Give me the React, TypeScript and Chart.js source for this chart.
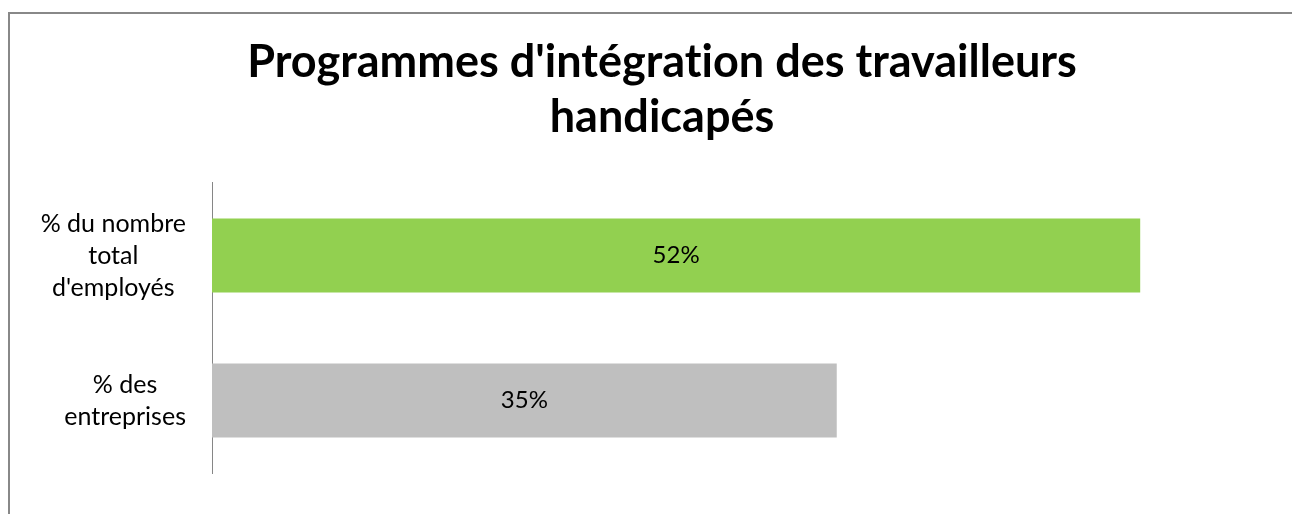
import React, { useEffect, useRef } from "react";
import { Chart, registerables } from "chart.js";

Chart.register(...registerables);

const titleLines = ["Programmes d'intégration des travailleurs", "handicapés"];
const categories: string[][] = [
  ["% du nombre", "total", "d'employés"],
  ["% des", "entreprises"],
];
const values = [0.52, 0.35];
const barColors = ["#92D050", "#BFBFBF"];
const axisMax = 0.6;

const FONT = "Lato, 'Open Sans', sans-serif";

const labelsPlugin = {
  id: "customLabels",
  beforeDraw(chart: any) {
    try {
      chart.ctx.letterSpacing = "0.01px";
    } catch (e) {}
  },
  afterDatasetsDraw(chart: any) {
    const ctx = chart.ctx;
    const meta = chart.getDatasetMeta(0);
    ctx.save();
    ctx.font = `24px ${FONT}`;
    ctx.fillStyle = "#000";
    ctx.textAlign = "center";
    ctx.textBaseline = "middle";
    meta.data.forEach((bar: any, i: number) => {
      const v = chart.data.datasets[0].data[i] as number;
      const x = (bar.x + bar.base) / 2;
      ctx.fillText(Math.round(v * 100) + "%", x, bar.y);
    });
    ctx.restore();
  },
  afterDraw(chart: any) {
    const ctx = chart.ctx;
    const yScale = chart.scales.y;
    const lh = 32;
    ctx.save();
    ctx.font = `25px ${FONT}`;
    ctx.fillStyle = "#000";
    ctx.textAlign = "center";
    ctx.textBaseline = "middle";
    const blockRight = 176;
    categories.forEach((lines, i) => {
      const w = Math.max(...lines.map((l) => ctx.measureText(l).width));
      const cx = blockRight - w / 2;
      const cy = yScale.getPixelForValue(i);
      const start = cy - ((lines.length - 1) * lh) / 2;
      lines.forEach((l, j) => ctx.fillText(l, cx, start + j * lh));
    });
    ctx.restore();
  },
};

export default function App() {
  const ref = useRef<HTMLCanvasElement | null>(null);
  useEffect(() => {
    document.body.style.overflow = "hidden";
    const canvas = ref.current;
    if (!canvas) return;
    const chart = new Chart(canvas, {
      type: "bar",
      data: {
        labels: categories.map((c) => c.join(" ")),
        datasets: [
          {
            data: values,
            backgroundColor: barColors,
            borderWidth: 0,
            categoryPercentage: 1,
            barPercentage: 0.51,
          },
        ],
      },
      options: {
        indexAxis: "y",
        animation: false,
        responsive: false,
        maintainAspectRatio: false,
        layout: { padding: { left: 0, right: 0, top: 0, bottom: 61 } },
        plugins: {
          legend: { display: false },
          tooltip: { enabled: false },
          title: {
            display: true,
            text: titleLines,
            color: "#000",
            font: { family: FONT, size: 45, weight: "bold", lineHeight: 1.222 },
            padding: { top: 21, bottom: 38 },
          },
        },
        scales: {
          x: { display: false, min: 0, max: axisMax },
          y: {
            grid: { display: true, drawOnChartArea: false, drawTicks: false },
            border: { display: true, color: "#868686", width: 1 },
            ticks: { display: false },
            afterFit: (scale: any) => {
              scale.width = 202;
            },
          },
          yRight: {
            type: "category",
            position: "right",
            labels: ["", ""],
            grid: { display: false, drawTicks: false },
            border: { display: false },
            ticks: { display: false },
            afterFit: (scale: any) => {
              scale.width = 31;
            },
          },
        },
      },
      plugins: [labelsPlugin],
    });
    return () => chart.destroy();
  }, []);

  return (
    <div style={{ width: 1292, height: 506, overflow: "hidden" }}>
      <div
        style={{
          marginTop: 4,
          border: "2px solid #888888",
          width: 1304,
          height: 520,
        }}
      >
        <canvas ref={ref} width={1304} height={520} style={{ display: "block" }} />
      </div>
    </div>
  );
}
